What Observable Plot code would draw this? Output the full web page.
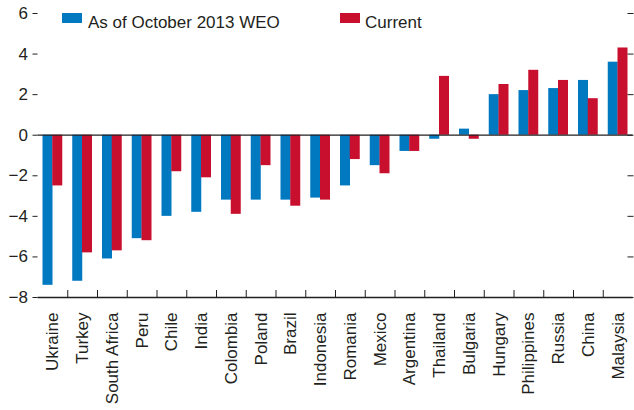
<!DOCTYPE html>
<html>
<head>
<meta charset="utf-8">
<script src="https://cdn.jsdelivr.net/npm/d3@7"></script>
<script src="https://cdn.jsdelivr.net/npm/@observablehq/plot@0.6"></script>
<style>
  html, body { margin: 0; padding: 0; background: #fff; }
  #chart { position: relative; width: 634px; height: 410px; }
  svg { display: block; }
</style>
</head>
<body>
<div id="chart"></div>
<script>
const countries = ["Ukraine","Turkey","South Africa","Peru","Chile","India","Colombia","Poland","Brazil","Indonesia","Romania","Mexico","Argentina","Thailand","Bulgaria","Hungary","Philippines","Russia","China","Malaysia"];
const weoOct2013 = [-7.4,-7.2,-6.1,-5.1,-4.0,-3.8,-3.2,-3.2,-3.2,-3.1,-2.5,-1.5,-0.8,-0.2,0.3,2.0,2.2,2.3,2.7,3.6];
const current = [-2.5,-5.8,-5.7,-5.2,-1.8,-2.1,-3.9,-1.5,-3.5,-3.2,-1.2,-1.9,-0.8,2.9,-0.2,2.5,3.2,2.7,1.8,4.3];
const yTicks = [-8,-6,-4,-2,0,2,4,6];
const seriesNames = ["As of October 2013 WEO","Current"];
const seriesColors = ["#0079c1","#c8102e"];

const rowsA = countries.map((c, i) => ({country: c, value: weoOct2013[i], series: seriesNames[0]}));
const rowsB = countries.map((c, i) => ({country: c, value: current[i], series: seriesNames[1]}));

const FONT = "'Liberation Sans', Arial, sans-serif";
const FS = 17;
const ink = "#231f20";
const half = 14.875;

const plot = Plot.plot({
  width: 634,
  height: 410,
  marginLeft: 37.5,
  marginRight: 1.5,
  marginTop: 13,
  marginBottom: 113,
  x: {domain: countries, padding: 0, round: false},
  y: {domain: [-8, 6]},
  color: {domain: seriesNames, range: seriesColors},
  style: {fontFamily: FONT, fontSize: FS + "px", color: ink, background: "#fff"},
  marks: [
    Plot.barY(rowsA, {x: "country", y: "value", fill: "series", insetLeft: 5, insetRight: 14.75}),
    Plot.barY(rowsB, {x: "country", y: "value", fill: "series", insetLeft: 14.75, insetRight: 5}),
    Plot.ruleY([0], {stroke: ink, strokeWidth: 1.3}),
    Plot.ruleY([-8], {stroke: ink, strokeWidth: 1.3}),
    Plot.axisY(yTicks, {anchor: "left", tickSize: 5, tickPadding: 5, label: null,
      tickFormat: d => d < 0 ? "\u2212" + (-d) : String(d)}),
    Plot.axisY(yTicks, {anchor: "right", tickSize: 6, dx: -6, label: null, tickFormat: () => ""}),
    Plot.axisX(countries.slice(1), {anchor: "bottom", tickSize: 7, dy: -7, dx: -half, label: null, tickFormat: () => ""}),
    Plot.axisX({anchor: "bottom", tickSize: 0, tickPadding: 15, tickRotate: -90, label: null})
  ]
});

document.getElementById("chart").appendChild(plot);

// Legend
const svg = d3.select(plot);
const legendItems = [
  {name: seriesNames[0], color: seriesColors[0], sx: 62, tx: 88},
  {name: seriesNames[1], color: seriesColors[1], sx: 340, tx: 365}
];
const lg = svg.append("g")
  .attr("font-family", FONT).attr("font-size", FS).attr("fill", ink).attr("text-anchor", "start");
legendItems.forEach(it => {
  lg.append("rect").attr("x", it.sx).attr("y", 13).attr("width", 20).attr("height", 10).attr("fill", it.color);
  lg.append("text").attr("x", it.tx).attr("y", 28).attr("text-anchor", "start").text(it.name);
});
</script>
</body>
</html>
